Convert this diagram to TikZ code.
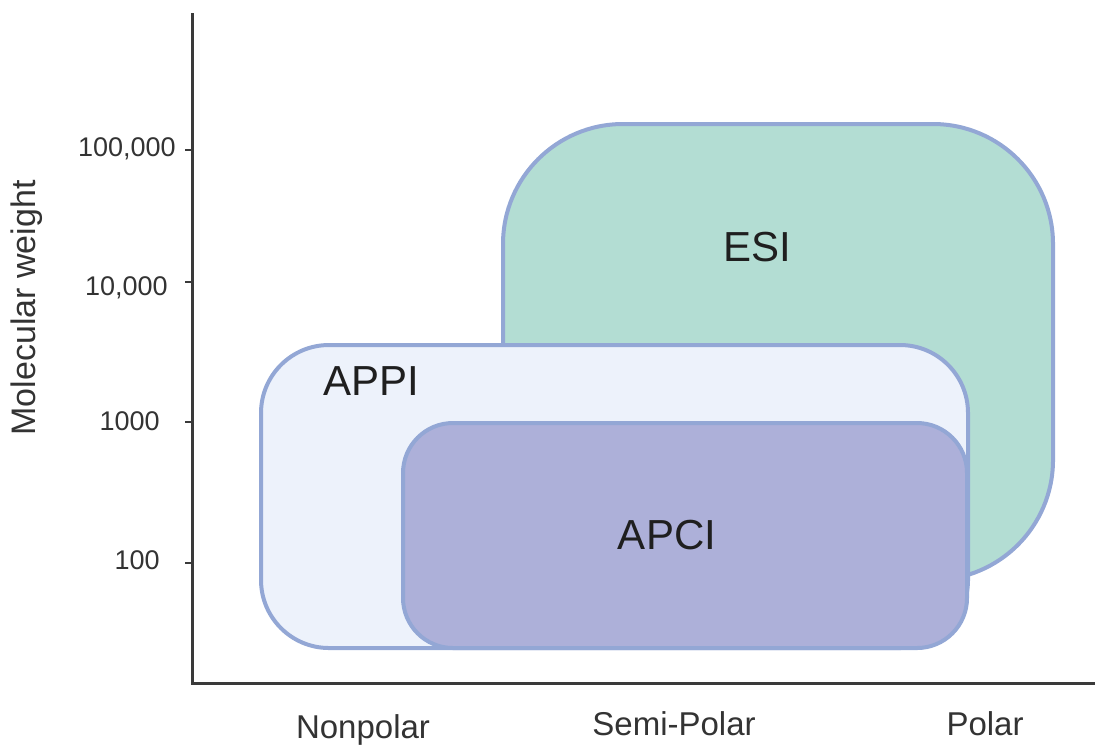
\documentclass[tikz,border=0pt]{standalone}
\usepackage{fontspec}
\setmainfont{Liberation Sans}
\definecolor{esifill}{HTML}{B3DDD3}
\definecolor{appifill}{HTML}{EDF2FB}
\definecolor{apcifill}{HTML}{ADB0D9}
\definecolor{regionedge}{HTML}{93A7D5}
\definecolor{axisgray}{HTML}{3A3A3A}
\definecolor{labelgray}{HTML}{333333}

\begin{document}
\begin{tikzpicture}[x=0.5pt,y=-0.5pt,
  region/.style={rectangle, draw=regionedge, line width=2pt, inner sep=0pt},
  regiontext/.style={text=black!88, font=\fontsize{21}{25}\selectfont},
  axisline/.style={draw=axisgray, line width=1.5pt},
  ticklabel/.style={anchor=base east, text=labelgray, inner sep=0pt, font=\fontsize{13.5}{16}\selectfont},
  catlabel/.style={anchor=base, text=labelgray, inner sep=0pt, font=\fontsize{16.5}{20}\selectfont}]
\useasboundingbox (0,0) rectangle (1095,746);

% ionisation regions, back to front
\node[region, fill=esifill, rounded corners=60pt,
      minimum width=275pt, minimum height=228pt] (esi) at (778,352) {};
\node[region, fill=appifill, rounded corners=34pt,
      minimum width=353.5pt, minimum height=151.5pt] (appi) at (614.5,496.5) {};
\node[region, fill=apcifill, rounded corners=25pt,
      minimum width=282pt, minimum height=112.5pt] (apci) at (685,535.5) {};

\node[regiontext] (esilabel) at (757,247) {ESI};
\node[regiontext] (appilabel) at (371,381) {APPI};
\node[regiontext] (apcilabel) at (667,535) {APCI};

% axes
\coordinate (ytop) at (192,13);
\coordinate (origin) at (192,683);
\coordinate (xend) at (1095,683);
\draw[axisline] (ytop) -- (origin) -- (xend);

% molecular weight ticks
\foreach \ty/\tb/\tx/\tlab in {150/156/176/{100,000}, 282/295/168/{10,000}, 422/430/160/1000, 563/569/160/100} {
  \draw[axisline, line width=1.2pt] (185,\ty) -- (192,\ty);
  \node[ticklabel] at (\tx,\tb) {\tlab};
}

\node[text=labelgray, rotate=90, font=\fontsize{17}{20}\selectfont] (ylab) at (27,308) {Molecular weight};

% polarity categories
\node[catlabel] (nonpolar) at (363,738) {Nonpolar};
\node[catlabel] (semipolar) at (674,735) {Semi-Polar};
\node[catlabel] (polar) at (985,735) {Polar};
\end{tikzpicture}
\end{document}
